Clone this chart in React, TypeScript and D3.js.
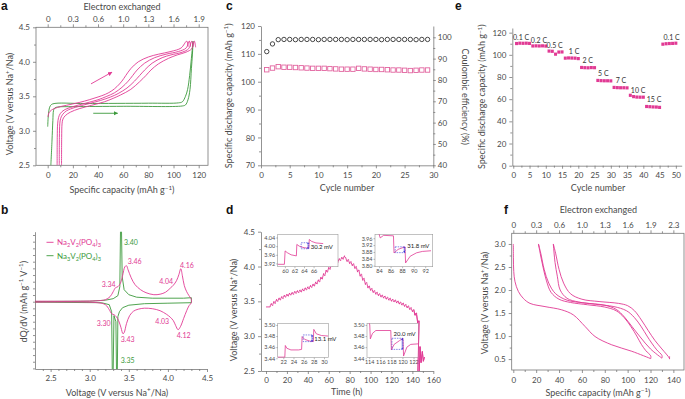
import React, { useEffect, useRef } from 'react';
import * as d3 from 'd3';

type Pt = [number, number];
type Seg = string | [string, number]; // 1 = superscript, -1 = subscript

const PINK = '#e13a94';
const PINK_LIGHT = '#e2649f';
const GREEN = '#3c9a3c';
const BLUE = '#3535d8';
const AXIS = '#777';
const TEXT = '#4a4a4a';
const FONT = 'Lato, "Open Sans", "DejaVu Sans", sans-serif';

// ---------- a: first cycles, capacity (mAh/g) vs voltage
const aTopLabels = ['0', '0.3', '0.6', '1.0', '1.3', '1.6', '1.9'];
const aGreenCharge: Pt[] = [[0, 3.06], [0.4, 3.2], [1, 3.3], [2, 3.36], [4, 3.39], [30, 3.395], [80, 3.4], [104, 3.405], [107, 3.42], [109.5, 3.5], [111.2, 3.6], [112.8, 3.8], [114.2, 4.05], [115.5, 4.3]];
const aGreenDischarge: Pt[] = [[115.5, 4.3], [115, 4.1], [114.2, 3.9], [113.1, 3.6], [111.5, 3.45], [109.5, 3.375], [107, 3.36], [60, 3.355], [20, 3.35], [8, 3.345], [5.5, 3.33], [4.6, 3.29], [4.1, 3.15], [3.4, 2.85], [2.5, 2.5]];
const aPinkCycles: Pt[][] = [
  [[0.3, 3.2], [1, 3.26], [3, 3.3], [8, 3.34], [15, 3.37], [25, 3.41], [33, 3.45], [40, 3.49], [46, 3.53], [51, 3.58], [55, 3.64], [59, 3.72], [62, 3.8], [66, 3.9], [72, 4.0], [80, 4.07], [88, 4.11], [98, 4.15], [106, 4.2], [110.5, 4.3], [111.6, 4.22]],
  [[7.5, 2.5], [7.6, 2.9], [7.9, 3.1], [8.6, 3.19], [10, 3.25], [13, 3.3], [20, 3.35], [30, 3.4], [40, 3.45], [47, 3.5], [53, 3.55], [59, 3.63], [64, 3.72], [67.5, 3.8], [71, 3.88], [77, 3.98], [85, 4.06], [94, 4.11], [104, 4.15], [110, 4.2], [112.5, 4.3], [113.6, 4.22]],
  [[9.2, 2.5], [9.3, 2.9], [9.6, 3.1], [10.3, 3.18], [12, 3.24], [15, 3.29], [22, 3.34], [32, 3.39], [42, 3.44], [50, 3.49], [56, 3.54], [63, 3.62], [69, 3.72], [73, 3.8], [77, 3.88], [83, 3.98], [91, 4.06], [98, 4.1], [107, 4.14], [112, 4.19], [114.5, 4.3], [115.6, 4.22]],
  [[11, 2.5], [11.1, 2.9], [11.4, 3.1], [12.1, 3.17], [14, 3.22], [18, 3.27], [25, 3.32], [35, 3.37], [45, 3.42], [52, 3.47], [58, 3.52], [66, 3.6], [73, 3.71], [78, 3.8], [82, 3.88], [88, 3.97], [96, 4.05], [103, 4.1], [110, 4.14], [114.5, 4.19], [116.5, 4.3], [117.6, 4.21]],
];

// ---------- b: dQ/dV (arbitrary units) vs voltage
const bPinkCharge: Pt[] = [[2.3, 0.05], [2.8, 0.05], [3.1, 0.1], [3.2, 0.2], [3.26, 0.5], [3.3, 1.0], [3.33, 1.4], [3.36, 1.5], [3.39, 1.8], [3.42, 2.6], [3.45, 3.5], [3.47, 3.6], [3.49, 3.2], [3.53, 2.4], [3.58, 1.7], [3.65, 1.2], [3.72, 0.9], [3.82, 0.7], [3.9, 0.75], [3.97, 0.95], [4.03, 1.35], [4.07, 1.65], [4.11, 2.1], [4.14, 2.7], [4.165, 3.3], [4.185, 2.6], [4.21, 1.6], [4.24, 1.0], [4.27, 0.6], [4.3, 0.25]];
const bPinkDischarge: Pt[] = [[4.3, 0.25], [4.3, -0.1], [4.27, -0.4], [4.24, -0.9], [4.2, -1.7], [4.16, -2.5], [4.13, -2.8], [4.1, -2.4], [4.07, -1.9], [4.03, -1.55], [3.98, -1.25], [3.9, -0.9], [3.8, -0.7], [3.7, -0.65], [3.62, -0.75], [3.56, -0.95], [3.51, -1.4], [3.47, -2.2], [3.44, -3.1], [3.425, -3.2], [3.4, -2.6], [3.37, -1.9], [3.34, -1.5], [3.31, -1.3], [3.28, -1.2], [3.25, -0.8], [3.2, -0.3], [3.1, -0.1], [2.3, -0.05]];
const bGreenCharge: Pt[] = [[2.3, 0.02], [3.0, 0.05], [3.2, 0.15], [3.3, 0.3], [3.36, 0.6], [3.385, 1.5], [3.395, 8], [3.405, 8], [3.415, 2.5], [3.44, 1.2], [3.5, 0.7], [3.6, 0.45], [3.8, 0.35], [4.0, 0.35], [4.2, 0.35], [4.3, 0.4]];
const bGreenDischarge: Pt[] = [[4.3, 0.4], [4.3, -0.1], [4.0, -0.15], [3.7, -0.2], [3.5, -0.35], [3.42, -0.6], [3.38, -1.0], [3.36, -1.5], [3.352, -8], [3.344, -8], [3.335, -2], [3.31, -1.4], [3.298, -8], [3.29, -8], [3.28, -1], [3.25, -0.3], [3.15, -0.1], [2.3, -0.05]];
const bNotes: [string, number, number, string][] = [
  ['3.40', 3.438, 5.94, GREEN], ['3.46', 3.486, 4.0, PINK], ['3.34', 3.153, 1.74, PINK],
  ['4.04', 3.89, 2.07, PINK], ['4.16', 4.155, 3.6, PINK], ['3.30', 3.089, -2.16, PINK],
  ['3.43', 3.396, -3.76, PINK], ['4.03', 3.839, -1.93, PINK], ['4.12', 4.112, -3.33, PINK],
  ['3.35', 3.396, -5.83, GREEN],
];

// ---------- c: cycling, cycles 1..29
const cCapacity = [104.3, 104.9, 105.4, 105.2, 105.2, 105.1, 105.0, 104.9, 104.8, 104.8, 104.8, 104.7, 104.6, 104.5, 104.5, 104.5, 104.8, 104.6, 104.5, 104.4, 104.4, 104.3, 104.2, 104.2, 104.1, 104.0, 104.1, 104.2, 104.2];
const cEfficiency = [93.3, 96.9, 98.9, 99.0, 99.0, 98.9, 99.0, 99.0, 99.0, 98.9, 99.0, 99.0, 99.0, 99.0, 98.9, 99.0, 99.0, 99.0, 99.0, 99.0, 98.9, 99.0, 99.0, 99.0, 99.0, 99.0, 98.9, 99.0, 99.0];

// ---------- d: GITT, time (h) vs voltage; relaxed level after each pulse
const dRest: Pt[] = [[0, 3.42], [4, 3.42]];
const dChargeSteps: Pt[] = [[4, 3.44], [6.5, 3.47], [9, 3.5], [11.5, 3.52], [14, 3.54], [16.5, 3.56], [19, 3.575], [21.5, 3.59], [24, 3.6], [26.5, 3.615], [29, 3.625], [31.5, 3.635], [34, 3.65], [36.5, 3.665], [39, 3.68], [41.5, 3.7], [44, 3.72], [46.5, 3.75], [49, 3.78], [51.5, 3.82], [54, 3.87], [56.5, 3.92], [59, 3.96], [61.5, 4.0], [64, 4.03], [66.5, 4.06], [69, 4.085], [71.5, 4.105], [74, 4.125]];
const dDischargeSteps: Pt[] = [[76.5, 4.1], [79, 4.07], [81.5, 4.04], [84, 4.0], [86.5, 3.95], [89, 3.89], [91.5, 3.83], [94, 3.77], [96.5, 3.72], [99, 3.685], [101.5, 3.655], [104, 3.63], [106.5, 3.61], [109, 3.59], [111.5, 3.575], [114, 3.56], [116.5, 3.545], [119, 3.53], [121.5, 3.52], [124, 3.505], [126.5, 3.49], [129, 3.475], [131.5, 3.455], [134, 3.435], [136.5, 3.41], [139, 3.38], [141.5, 3.33], [144, 3.22]];
const dTail: Pt[] = [[145.2, 2.45], [146.5, 2.45], [147.3, 2.85], [148.3, 2.62], [149.5, 2.78], [150.5, 2.64], [151.5, 2.7]];
const PULSE = 0.03;
const dInset1: Pt[] = [[58.5, 3.916], [59.9, 3.916], [60.05, 3.978], [60.5, 3.97], [61.3, 3.96], [62.4, 3.955], [62.5, 4.008], [63, 4.0], [64, 3.993], [65, 3.99], [65.1, 4.031], [65.6, 4.022], [66.5, 4.015], [68, 4.012]];
const dInset2: Pt[] = [[83.6, 4.0], [84.0, 3.985], [84.2, 3.962], [84.8, 3.977], [86.5, 3.974], [86.6, 3.874], [87.3, 3.895], [88.5, 3.91], [88.6, 3.816], [89.4, 3.855], [90.5, 3.875], [91.5, 3.883], [93, 3.887]];
const dInset3: Pt[] = [[20.9, 3.442], [22.3, 3.442], [22.4, 3.463], [22.7, 3.458], [23.5, 3.455], [25, 3.455], [25.6, 3.456], [25.7, 3.479], [26.2, 3.474], [27.2, 3.471], [27.9, 3.47], [28, 3.492], [28.5, 3.484], [29.5, 3.481], [30.8, 3.48]];
const dInset4: Pt[] = [[113.8, 3.51], [114.1, 3.5], [114.2, 3.475], [114.6, 3.485], [115.2, 3.49], [117.9, 3.49], [118, 3.455], [118.5, 3.465], [119.5, 3.472], [120.1, 3.476], [120.2, 3.444], [120.8, 3.46], [121.5, 3.465], [122.9, 3.466]];
const dInsetLabels = ['30.2 mV', '31.8 mV', '13.1 mV', '20.0 mV'];

// ---------- e: rate capability, cycles 1..50
const eCapacity = [110.2, 110.5, 110.4, 110.5, 110.3, 108.0, 108.1, 108.0, 108.1, 107.9, 103.4, 103.2, 100.6, 102.5, 102.6, 97.0, 97.2, 97.1, 97.0, 96.6, 88.6, 88.4, 88.3, 88.5, 88.4, 76.9, 76.7, 76.6, 76.6, 76.5, 70.6, 70.4, 70.3, 70.3, 70.2, 63.5, 62.3, 61.9, 61.8, 61.8, 53.4, 53.2, 53.0, 52.9, 52.6, 109.6, 110.0, 110.2, 110.3, 110.5];
const eRates: [string, number, number][] = [['0.1 C', 2.4, 115.5], ['0.2 C', 7.9, 113.4], ['0.5 C', 12.7, 108.3], ['1 C', 18.7, 103.5], ['2 C', 22.9, 95.4], ['5 C', 27.7, 83.4], ['7 C', 33.1, 76.7], ['10 C', 38.4, 68.3], ['15 C', 43.3, 60.2], ['0.1 C', 48.7, 115.5]];

// ---------- f: low-voltage cycles
const fTopLabels = ['0', '0.3', '0.6', '1.0', '1.3', '1.6', '1.9', '2.3'];
const fCurves: Pt[][] = [
  [[0, 3.0], [0.1, 2.7], [0.4, 2.4], [1.5, 2.18], [4.4, 1.97], [8.7, 1.82], [14.6, 1.71], [27.7, 1.64], [42.3, 1.57], [52.5, 1.46], [62.7, 1.21], [71.5, 0.99], [86.1, 0.81], [103.6, 0.67], [120.2, 0.51]],
  [[120.2, 0.51], [120.2, 0.57], [116, 0.68], [112, 0.82], [108, 1.0], [103, 1.2], [97, 1.4], [90, 1.55], [80, 1.63], [65, 1.68], [50, 1.73], [40, 1.8], [33, 1.95], [29, 2.2], [26, 2.5], [23.5, 2.8], [22, 3.0]],
  [[22, 3.0], [24, 2.8], [27, 2.45], [31, 2.15], [37, 1.92], [47, 1.78], [62, 1.72], [80, 1.67], [90, 1.58], [97, 1.42], [104, 1.2], [111, 0.98], [120, 0.72], [130, 0.52]],
  [[130, 0.52], [130, 0.58], [125.5, 0.7], [121, 0.85], [117, 1.0], [112, 1.2], [106, 1.4], [99, 1.55], [88, 1.64], [72, 1.69], [57, 1.74], [47, 1.82], [41, 2.0], [38.5, 2.3], [36.5, 2.6], [35, 3.0]],
  [[35, 3.0], [37, 2.8], [40, 2.45], [44, 2.15], [50, 1.92], [60, 1.8], [75, 1.75], [92, 1.71], [100, 1.66], [106, 1.55], [112, 1.35], [118, 1.12], [124, 0.9], [130, 0.72], [136.5, 0.52], [136.6, 0.5], [136.7, 0.56]],
];

// ---------- helpers
function addAxis(svg: any, gen: any, tx: number, ty: number, domain = true, size = 8) {
  const g = svg.append('g').attr('transform', `translate(${tx},${ty})`).call(gen);
  if (domain) g.select('.domain').attr('stroke', AXIS).attr('stroke-width', 0.8);
  else g.select('.domain').remove();
  g.selectAll('.tick line').attr('stroke', AXIS).attr('stroke-width', 0.8);
  g.selectAll('.tick text').attr('fill', TEXT).attr('font-size', size).attr('font-family', FONT);
  return g;
}

function minor(svg: any, gen: any, tx: number, ty: number) {
  addAxis(svg, gen.tickSize(2).tickFormat(() => ''), tx, ty, false);
}

function rich(parent: any, x: number, y: number, segs: Seg[], o: any = {}) {
  const size = o.size ?? 9;
  const t = parent.append('text')
    .attr('transform', `translate(${x},${y})${o.rot ? ` rotate(${o.rot})` : ''}`)
    .attr('text-anchor', o.anchor ?? 'middle')
    .attr('font-size', size)
    .attr('font-family', o.family ?? FONT)
    .attr('font-weight', o.weight ?? 'normal')
    .attr('fill', o.fill ?? TEXT);
  let shift = 0;
  segs.forEach((s) => {
    const [str, k] = typeof s === 'string' ? [s, 0] : s;
    const target = k === 1 ? -size * 0.38 : k === -1 ? size * 0.25 : 0;
    t.append('tspan').attr('dy', target - shift).attr('font-size', k ? size * 0.7 : size).text(str);
    shift = target;
  });
  return t;
}

function clipRect(svg: any, id: string, x0: number, y0: number, x1: number, y1: number) {
  svg.select('defs').append('clipPath').attr('id', id)
    .append('rect').attr('x', x0).attr('y', y0).attr('width', x1 - x0).attr('height', y1 - y0);
  return `url(#${id})`;
}

function gitt(steps: Pt[], sign: number, start: number): Pt[] {
  const out: Pt[] = [];
  let p = start;
  steps.forEach(([t, v]) => {
    out.push([t, p], [t, p + sign * PULSE * 0.5], [t + 1.1, v + sign * PULSE], [t + 1.15, v + sign * PULSE * 0.4], [t + 2.4, v]);
    p = v;
  });
  return out;
}

const voltTitle: Seg[] = ['Voltage (V versus Na', ['+', 1], '/Na)'];
const capTitle: Seg[] = ['Specific capacity (mAh g', ['−1', 1], ')'];
const dischTitle: Seg[] = ['Specific discharge capacity (mAh g', ['−1', 1], ')'];

export default function App() {
  const ref = useRef<SVGSVGElement>(null);

  useEffect(() => {
    if (!ref.current) return;
    const svg = d3.select(ref.current);
    svg.selectAll('*').remove();
    const defs = svg.append('defs');
    ([['arrP', PINK], ['arrG', GREEN], ['arrB', BLUE]] as [string, string][]).forEach(([id, c]) => {
      defs.append('marker').attr('id', id).attr('viewBox', '0 0 10 10').attr('refX', 9).attr('refY', 5)
        .attr('markerWidth', id === 'arrB' ? 3 : 5).attr('markerHeight', id === 'arrB' ? 3 : 5)
        .attr('orient', 'auto-start-reverse')
        .append('path').attr('d', 'M0,0L10,5L0,10z').attr('fill', c);
    });

    // panel letters
    ([['a', 1, 10], ['b', 1, 213.5], ['c', 226, 10], ['d', 226, 213.5], ['e', 455, 10], ['f', 504, 213.5]] as [string, number, number][])
      .forEach(([s, x, y]) => rich(svg, x, y, [s], { size: 12, anchor: 'start', weight: 'bold', fill: '#111', family: '"Liberation Sans", Arial, sans-serif' }));

    // ================= a
    {
      const x = d3.scaleLinear().domain([-9.3, 127.4]).range([36, 208]);
      const y = d3.scaleLinear().domain([2.5, 4.5]).range([165.3, 27.3]);
      const line = d3.line<Pt>().x((d) => x(d[0])).y((d) => y(d[1])).curve(d3.curveCatmullRom.alpha(0.5));
      const cp = clipRect(svg, 'clipA', 36, 27.3, 208, 165.3);
      svg.append('rect').attr('x', 36).attr('y', 27.3).attr('width', 172).attr('height', 138)
        .attr('fill', 'none').attr('stroke', AXIS).attr('stroke-width', 0.8);
      const caps = d3.range(0, 121, 20);
      addAxis(svg, d3.axisBottom(x).tickValues(caps).tickSize(3).tickPadding(4), 0, 165.3, false);
      minor(svg, d3.axisBottom(x).tickValues(d3.range(10, 121, 20)), 0, 165.3);
      addAxis(svg, d3.axisTop(x).tickValues(caps).tickSize(3).tickPadding(2).tickFormat((_d: any, i: number) => aTopLabels[i]), 0, 27.3, false);
      minor(svg, d3.axisTop(x).tickValues(d3.range(10, 121, 20)), 0, 27.3);
      addAxis(svg, d3.axisLeft(y).tickValues([2.5, 3, 3.5, 4, 4.5]).tickSize(3).tickPadding(3).tickFormat(d3.format('.1f')), 36, 0, false);
      minor(svg, d3.axisLeft(y).tickValues([2.75, 3.25, 3.75, 4.25]), 36, 0);
      const pg = svg.append('g').attr('clip-path', cp).attr('fill', 'none').attr('stroke-width', 0.9);
      pg.append('path').attr('d', line(aGreenCharge)).attr('stroke', GREEN);
      pg.append('path').attr('d', line(aGreenDischarge)).attr('stroke', GREEN);
      aPinkCycles.forEach((c) => pg.append('path').attr('d', line(c)).attr('stroke', PINK));
      svg.append('line').attr('x1', x(34.4)).attr('y1', y(3.68)).attr('x2', x(51.1)).attr('y2', y(3.85))
        .attr('stroke', PINK).attr('stroke-width', 0.9).attr('marker-end', 'url(#arrP)');
      svg.append('line').attr('x1', x(36.2)).attr('y1', y(3.254)).attr('x2', x(55.6)).attr('y2', y(3.254))
        .attr('stroke', GREEN).attr('stroke-width', 0.9).attr('marker-end', 'url(#arrG)');
      rich(svg, 122, 10, ['Electron exchanged']);
      rich(svg, 122, 193, capTitle);
      rich(svg, 13, 104, voltTitle, { rot: -90 });
    }

    // ================= b
    {
      const x = d3.scaleLinear().domain([2.3, 4.5]).range([35, 207]);
      const y = d3.scaleLinear().domain([-6.73, 7]).range([369, 231.7]);
      const cp = clipRect(svg, 'clipB', 35, 231.7, 208, 369);
      addAxis(svg, d3.axisBottom(x).tickValues([2.5, 3, 3.5, 4, 4.5]).tickSize(3).tickSizeOuter(0).tickPadding(3).tickFormat(d3.format('.1f')), 0, 369);
      minor(svg, d3.axisBottom(x).tickValues(d3.range(2.4, 4.45, 0.1).filter((v) => Math.abs(v * 2 - Math.round(v * 2)) > 0.01)), 0, 369);
      addAxis(svg, d3.axisLeft(y).tickValues([]).tickSizeOuter(0), 35, 0);
      minor(svg, d3.axisLeft(y).tickValues(d3.range(-6.67, 7, 0.667)), 35, 0);
      const lin = d3.line<Pt>().x((d) => x(d[0])).y((d) => y(d[1]));
      const smooth = d3.line<Pt>().x((d) => x(d[0])).y((d) => y(d[1])).curve(d3.curveCatmullRom.alpha(0.5));
      const pg = svg.append('g').attr('clip-path', cp).attr('fill', 'none').attr('stroke-width', 0.9);
      pg.append('path').attr('d', lin(bGreenCharge)).attr('stroke', GREEN);
      pg.append('path').attr('d', lin(bGreenDischarge)).attr('stroke', GREEN);
      pg.append('path').attr('d', smooth(bPinkCharge)).attr('stroke', PINK);
      pg.append('path').attr('d', smooth(bPinkDischarge)).attr('stroke', PINK);
      bNotes.forEach(([s, v, q, c]) => rich(svg, x(v), y(q) + 2.5, [s], { size: 7, anchor: 'start', fill: c }));
      // legend
      ([[PINK, '2', 242.3], [GREEN, '3', 255.7]] as [string, string, number][]).forEach(([c, n, ly]) => {
        svg.append('line').attr('x1', 46.5).attr('x2', 53.5).attr('y1', ly).attr('y2', ly).attr('stroke', c).attr('stroke-width', 0.9);
        rich(svg, 57, ly + 2.8, ['Na', [n, -1], 'V', ['2', -1], '(PO', ['4', -1], ')', ['3', -1]], { size: 8, anchor: 'start', fill: c });
      });
      rich(svg, 117, 395.5, voltTitle);
      rich(svg, 26.5, 301.7, ['dQ/dV (mAh g', ['−1', 1], ' V', ['−1', 1], ')'], { rot: -90 });
    }

    // ================= c
    {
      const x = d3.scaleLinear().domain([0, 30]).range([261, 433.3]);
      const yl = d3.scaleLinear().domain([70, 120]).range([165.3, 26]);
      const yr = d3.scaleLinear().domain([40, 105.3]).range([165.3, 26]);
      addAxis(svg, d3.axisBottom(x).tickValues(d3.range(0, 31, 5)).tickSize(3).tickSizeOuter(0).tickPadding(4), 0, 165.3);
      minor(svg, d3.axisBottom(x).tickValues(d3.range(2.5, 30, 5)), 0, 165.3);
      addAxis(svg, d3.axisLeft(yl).tickValues(d3.range(70, 121, 10)).tickSize(3).tickSizeOuter(0).tickPadding(3), 261, 0);
      minor(svg, d3.axisLeft(yl).tickValues(d3.range(75, 120, 10)), 261, 0);
      addAxis(svg, d3.axisRight(yr).tickValues(d3.range(40, 101, 10)).tickSize(2.5).tickSizeOuter(0).tickPadding(2), 433.3, 0);
      minor(svg, d3.axisRight(yr).tickValues(d3.range(45, 100, 10)), 433.3, 0);
      cEfficiency.forEach((v, i) => svg.append('circle').attr('cx', x(i + 1)).attr('cy', yr(v)).attr('r', 2.2)
        .attr('fill', 'none').attr('stroke', '#333').attr('stroke-width', 0.9));
      cCapacity.forEach((v, i) => svg.append('rect').attr('x', x(i + 1) - 2.2).attr('y', yl(v) - 2.2).attr('width', 4.4).attr('height', 4.4)
        .attr('fill', 'none').attr('stroke', PINK_LIGHT).attr('stroke-width', 0.9));
      rich(svg, 347, 191, ['Cycle number']);
      rich(svg, 231.5, 95.8, dischTitle, { rot: -90 });
      rich(svg, 461.5, 96.7, ['Coulombic efficiency (%)'], { rot: 90 });
    }

    // ================= d
    {
      const x = d3.scaleLinear().domain([-4.8, 160]).range([261, 433.3]);
      const y = d3.scaleLinear().domain([2.5, 4.5]).range([371, 231.7]);
      const cp = clipRect(svg, 'clipD', 261, 231.7, 440, 371);
      addAxis(svg, d3.axisBottom(x).tickValues(d3.range(0, 161, 20)).tickSize(3).tickSizeOuter(0).tickPadding(3), 0, 371);
      minor(svg, d3.axisBottom(x).tickValues(d3.range(10, 160, 20)), 0, 371);
      addAxis(svg, d3.axisLeft(y).tickValues([2.5, 3, 3.5, 4, 4.5]).tickSize(3).tickSizeOuter(0).tickPadding(3).tickFormat(d3.format('.1f')), 261, 0);
      minor(svg, d3.axisLeft(y).tickValues([2.75, 3.25, 3.75, 4.25]), 261, 0);
      const lin = d3.line<Pt>().x((d) => x(d[0])).y((d) => y(d[1]));
      const charge = gitt(dChargeSteps, 1, dRest[1][1]);
      const discharge = gitt(dDischargeSteps, -1, dChargeSteps[dChargeSteps.length - 1][1]);
      const curve: Pt[] = [...dRest, ...charge, ...discharge, ...dTail];
      svg.append('path').attr('clip-path', cp).attr('d', lin(curve)).attr('fill', 'none').attr('stroke', PINK).attr('stroke-width', 0.9);

      const insets = [
        { box: [277.7, 234.3, 338, 266.7], xd: [58.5, 71.1], yd: [3.905, 4.055], xt: [60, 62, 64, 66], yt: [3.92, 3.96, 4.0, 4.04], data: dInset1, rect: [63.4, 65.0, 3.988, 4.016], at: [65.4, 3.997] },
        { box: [375, 234.3, 432.7, 266.7], xd: [83.3, 93.3], yd: [3.794, 3.983], xt: [84, 86, 88, 90, 92], yt: [3.8, 3.84, 3.88, 3.92, 3.96], data: dInset2, rect: [86.8, 88.5, 3.876, 3.91], at: [88.9, 3.915] },
        { box: [277.7, 323.3, 328.3, 357.7], xd: [20.9, 30.85], yd: [3.441, 3.503], xt: [22, 24, 26, 28, 30], yt: [3.44, 3.46, 3.48, 3.5], data: dInset3, rect: [25.9, 27.8, 3.47, 3.482], at: [28.1, 3.474] },
        { box: [367, 323.3, 418.5, 357.7], xd: [113.6, 122.9], yd: [3.441, 3.503], xt: [114, 116, 118, 120, 122], yt: [3.44, 3.46, 3.48, 3.5], data: dInset4, rect: [118.1, 120.1, 3.456, 3.476], at: [118.4, 3.484] },
      ];
      insets.forEach((ins, k) => {
        const [x0, y0, x1, y1] = ins.box;
        const ix = d3.scaleLinear().domain(ins.xd).range([x0, x1]);
        const iy = d3.scaleLinear().domain(ins.yd).range([y1, y0]);
        svg.append('rect').attr('x', x0).attr('y', y0).attr('width', x1 - x0).attr('height', y1 - y0)
          .attr('fill', '#fff').attr('stroke', '#999').attr('stroke-width', 0.6);
        const ax = addAxis(svg, d3.axisBottom(ix).tickValues(ins.xt).tickSize(1.5).tickSizeOuter(0).tickPadding(1), 0, y1, false, 5.5);
        ax.selectAll('.tick line').attr('stroke-width', 0.5);
        const ay = addAxis(svg, d3.axisLeft(iy).tickValues(ins.yt).tickSize(1.5).tickSizeOuter(0).tickPadding(1).tickFormat(d3.format('.2f')), x0, 0, false, 5.5);
        ay.selectAll('.tick line').attr('stroke-width', 0.5);
        const icp = clipRect(svg, `clipIns${k}`, x0, y0, x1, y1);
        const il = d3.line<Pt>().x((d) => ix(d[0])).y((d) => iy(d[1]));
        svg.append('path').attr('clip-path', icp).attr('d', il(ins.data)).attr('fill', 'none').attr('stroke', PINK).attr('stroke-width', 0.8);
        const [r0, r1, v0, v1] = ins.rect;
        svg.append('rect').attr('x', ix(r0)).attr('y', iy(v1)).attr('width', ix(r1) - ix(r0)).attr('height', iy(v0) - iy(v1))
          .attr('fill', 'none').attr('stroke', BLUE).attr('stroke-width', 0.6).attr('stroke-dasharray', '1.5,1');
        svg.append('line').attr('x1', ix(r1) - 0.8).attr('x2', ix(r1) - 0.8).attr('y1', iy(v0)).attr('y2', iy(v1))
          .attr('stroke', BLUE).attr('stroke-width', 0.6).attr('marker-start', 'url(#arrB)').attr('marker-end', 'url(#arrB)');
        rich(svg, ix(ins.at[0]), iy(ins.at[1]) + 2, [dInsetLabels[k]], { size: 6, anchor: 'start', fill: '#222' });
      });
      // the final drop passes in front of the lower-right inset
      svg.append('path').attr('clip-path', cp).attr('d', lin(curve.filter((d) => d[0] >= 141.5)))
        .attr('fill', 'none').attr('stroke', PINK).attr('stroke-width', 0.9);
      rich(svg, 346.7, 395, ['Time (h)']);
      rich(svg, 237, 310, voltTitle, { rot: -90 });
    }

    // ================= e
    {
      const x = d3.scaleLinear().domain([-0.3, 51.8]).range([512.3, 681.7]);
      const y = d3.scaleLinear().domain([0, 124.2]).range([165.7, 28]);
      addAxis(svg, d3.axisBottom(x).tickValues(d3.range(0, 51, 5)).tickSize(3).tickSizeOuter(0).tickPadding(4), 0, 165.7);
      minor(svg, d3.axisBottom(x).tickValues(d3.range(2.5, 51, 5)), 0, 165.7);
      addAxis(svg, d3.axisLeft(y).tickValues(d3.range(0, 121, 20)).tickSize(3).tickSizeOuter(0).tickPadding(3), 512.3, 0);
      minor(svg, d3.axisLeft(y).tickValues(d3.range(10, 121, 20)), 512.3, 0);
      eCapacity.forEach((v, i) => svg.append('rect').attr('x', x(i + 1) - 1.5).attr('y', y(v) - 1.6).attr('width', 3).attr('height', 3.2)
        .attr('fill', PINK));
      eRates.forEach(([s, c, v]) => rich(svg, x(c), y(v) + 2.6, [s], { size: 7, fill: '#333' }));
      rich(svg, 598, 191, ['Cycle number']);
      rich(svg, 485, 96.7, dischTitle, { rot: -90 });
    }

    // ================= f
    {
      const x = d3.scaleLinear().domain([-1.4, 149.3]).range([511.7, 684]);
      const y = d3.scaleLinear().domain([0.263, 3.232]).range([370, 233.3]);
      const cp = clipRect(svg, 'clipF', 511.7, 233.3, 684, 370);
      svg.append('rect').attr('x', 511.7).attr('y', 233.3).attr('width', 172.3).attr('height', 136.7)
        .attr('fill', 'none').attr('stroke', AXIS).attr('stroke-width', 0.8);
      const caps = d3.range(0, 141, 20);
      addAxis(svg, d3.axisBottom(x).tickValues(caps).tickSize(3).tickPadding(4), 0, 370, false);
      minor(svg, d3.axisBottom(x).tickValues(d3.range(10, 141, 20)), 0, 370);
      addAxis(svg, d3.axisTop(x).tickValues(caps).tickSize(3).tickPadding(2).tickFormat((_d: any, i: number) => fTopLabels[i]), 0, 233.3, false);
      minor(svg, d3.axisTop(x).tickValues(d3.range(10, 141, 20)), 0, 233.3);
      addAxis(svg, d3.axisLeft(y).tickValues([0.5, 1, 1.5, 2, 2.5, 3]).tickSize(3).tickPadding(3).tickFormat(d3.format('.1f')), 511.7, 0, false);
      minor(svg, d3.axisLeft(y).tickValues([0.75, 1.25, 1.75, 2.25, 2.75]), 511.7, 0);
      const line = d3.line<Pt>().x((d) => x(d[0])).y((d) => y(d[1])).curve(d3.curveCatmullRom.alpha(0.5));
      const pg = svg.append('g').attr('clip-path', cp).attr('fill', 'none').attr('stroke-width', 0.9);
      fCurves.forEach((c) => pg.append('path').attr('d', line(c)).attr('stroke', PINK));
      rich(svg, 598.3, 213, ['Electron exchanged']);
      rich(svg, 598, 395.5, capTitle);
      rich(svg, 488, 303, voltTitle, { rot: -90 });
    }
  }, []);

  return (
    <svg ref={ref} width={685} height={399}
      style={{ position: 'absolute', left: 0, top: 0, background: '#fff', display: 'block' }} />
  );
}
